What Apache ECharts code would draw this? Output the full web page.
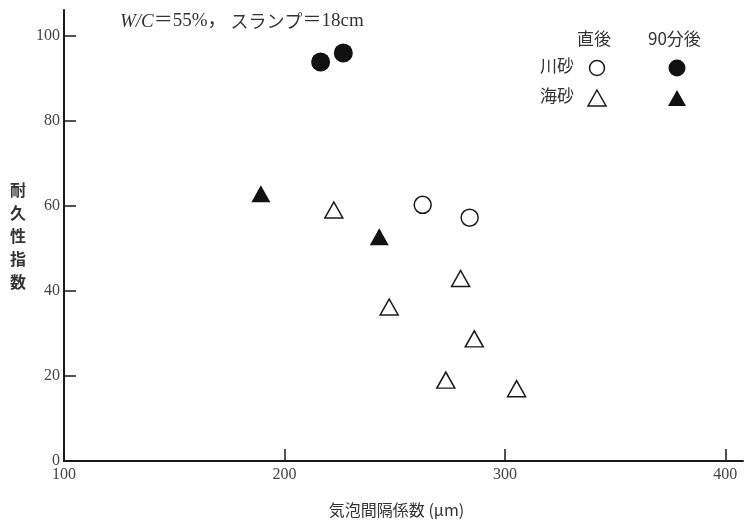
<!DOCTYPE html>
<html>
<head>
<meta charset="utf-8">
<script src="https://cdn.jsdelivr.net/npm/echarts@6/dist/echarts.min.js"></script>
<style>html,body{margin:0;padding:0;background:#fff}#c{width:744px;height:523px}</style>
</head>
<body>
<div id="c"></div>
<script>
// 川砂 (river sand)
const riverImmediate = [[262.7, 60.2], [284.0, 57.2]];
const river90 = [[216.4, 93.8], [226.7, 95.9]];
// 海砂 (sea sand)
const seaImmediate = [[222.4, 59.0], [279.9, 42.9], [247.5, 36.2], [286.1, 28.7], [273.2, 19.0], [305.3, 17.0]];
const sea90 = [[189.3, 62.8], [243.0, 52.7]];

const xTicks = [100, 200, 300, 400];
const yTicks = [0, 20, 40, 60, 80, 100];

const xName = '気泡間隔係数 (μm)';
const yName = '耐久性指数';
const colHeaders = ['直後', '90分後'];
const rowHeaders = ['川砂', '海砂'];

const SERIF = '"Liberation Serif","DejaVu Serif","Noto Sans CJK JP",serif';
const CJK = '"Noto Sans CJK JP","Liberation Serif",serif';

const chart = echarts.init(document.getElementById('c'), null, {renderer: 'canvas'});

const hollow = {color: '#fff', borderColor: '#1a1a1a', borderWidth: 1.5, opacity: 1};
const solid = {color: '#111', borderColor: '#111', borderWidth: 0, opacity: 1};

function legendItems() {
  const items = [];
  const f = '17px ' + CJK;
  items.push({type: 'text', left: 577, top: 30, style: {text: colHeaders[0], font: f, fill: '#333'}});
  items.push({type: 'text', left: 648, top: 30, style: {text: colHeaders[1], font: f, fill: '#333'}});
  items.push({type: 'text', left: 540, top: 57, style: {text: rowHeaders[0], font: f, fill: '#333'}});
  items.push({type: 'text', left: 540, top: 87, style: {text: rowHeaders[1], font: f, fill: '#333'}});
  items.push({type: 'circle', shape: {cx: 597, cy: 68, r: 7.5}, style: {fill: '#fff', stroke: '#1a1a1a', lineWidth: 1.5}});
  items.push({type: 'circle', shape: {cx: 677, cy: 68, r: 8.5}, style: {fill: '#111'}});
  items.push({type: 'polygon', shape: {points: [[597, 90], [606, 106], [588, 106]]}, style: {fill: '#fff', stroke: '#1a1a1a', lineWidth: 1.5}});
  items.push({type: 'polygon', shape: {points: [[677, 90], [686, 106], [668, 106]]}, style: {fill: '#111'}});
  return items;
}

chart.setOption({
  animation: false,
  backgroundColor: '#fff',
  grid: {left: 64, top: 10, right: 1, bottom: 56, containLabel: false},
  xAxis: {
    type: 'value', min: 100, max: 408,
    name: xName, nameLocation: 'middle', nameGap: 41,
    nameTextStyle: {fontFamily: CJK, fontSize: 16, color: '#333', padding: [0, 0, 0, -14]},
    axisLine: {show: true, lineStyle: {color: '#1a1a1a', width: 2}},
    axisTick: {show: true, inside: true, length: 12, customValues: xTicks, lineStyle: {color: '#1a1a1a', width: 1.5}},
    axisLabel: {customValues: xTicks, fontFamily: SERIF, fontSize: 16, color: '#444', margin: 6},
    splitLine: {show: false}
  },
  yAxis: {
    type: 'value', min: 0, max: 106,
    axisLine: {show: true, lineStyle: {color: '#1a1a1a', width: 2}},
    axisTick: {show: true, inside: true, length: 12, customValues: yTicks, lineStyle: {color: '#1a1a1a', width: 1.5}},
    axisLabel: {customValues: yTicks, fontFamily: SERIF, fontSize: 16, color: '#444', margin: 4},
    splitLine: {show: false}
  },
  graphic: [
    {type: 'text', left: 120, top: 12, style: {
      rich: {
        i: {fontFamily: SERIF, fontStyle: 'italic', fontSize: 19, fill: '#333'},
        n: {fontFamily: SERIF, fontSize: 19, fill: '#333'},
        s: {fontFamily: SERIF, fontSize: 19, fill: '#333', padding: [0, 4, 0, 0]},
        j: {fontFamily: CJK, fontSize: 18, fill: '#333'}
      },
      text: '{i|W/C}{n|＝55%}{s|，}{j|スランプ}{n|＝18cm}'
    }},
    {type: 'text', left: 10, top: 178, style: {
      text: yName.split('').join('\n'), font: 'bold 16px ' + CJK, fill: '#333', lineHeight: 23, align: 'center'
    }},
    ...legendItems()
  ],
  series: [
    {type: 'scatter', name: '川砂 直後', data: riverImmediate, symbol: 'circle', symbolSize: 17, itemStyle: hollow},
    {type: 'scatter', name: '川砂 90分後', data: river90, symbol: 'circle', symbolSize: 19, itemStyle: solid},
    {type: 'scatter', name: '海砂 直後', data: seaImmediate, symbol: 'triangle', symbolSize: [18, 16], itemStyle: hollow},
    {type: 'scatter', name: '海砂 90分後', data: sea90, symbol: 'triangle', symbolSize: [19, 17], itemStyle: solid}
  ]
});
</script>
</body>
</html>
